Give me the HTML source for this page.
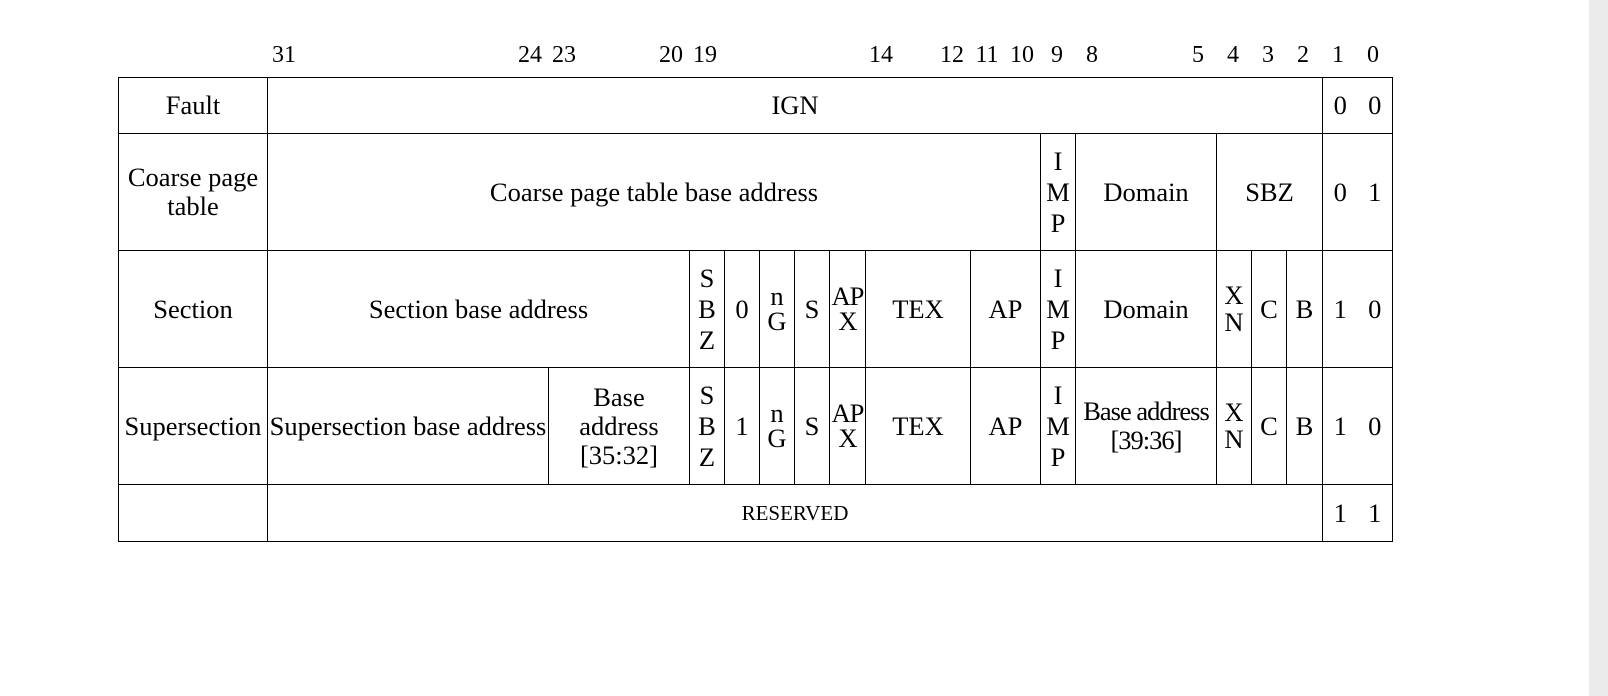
<!DOCTYPE html>
<html><head><meta charset="utf-8"><style>
html,body{margin:0;padding:0;background:#fff;}
body{width:1608px;height:696px;position:relative;overflow:hidden;font-family:"Liberation Serif","Times New Roman",serif;font-size:26.5px;color:#000;}
.c{position:absolute;box-sizing:border-box;border:1.3px solid #000;display:flex;align-items:center;justify-content:center;text-align:center;line-height:29px;white-space:nowrap;}
.v{line-height:31px;}
.h{position:absolute;top:42px;font-size:24px;transform:translateX(-50%);}
.d{display:inline-block;width:35px;text-align:center;}
#sb{position:absolute;left:1589px;top:0;width:19px;height:696px;background:#ebebeb;}
</style></head><body>
<div id="sb"></div>
<div class="h" style="left:284px">31</div>
<div class="h" style="left:530px">24</div>
<div class="h" style="left:564px">23</div>
<div class="h" style="left:671px">20</div>
<div class="h" style="left:705px">19</div>
<div class="h" style="left:881px">14</div>
<div class="h" style="left:952px">12</div>
<div class="h" style="left:987px">11</div>
<div class="h" style="left:1022px">10</div>
<div class="h" style="left:1057px">9</div>
<div class="h" style="left:1092px">8</div>
<div class="h" style="left:1198px">5</div>
<div class="h" style="left:1233px">4</div>
<div class="h" style="left:1268px">3</div>
<div class="h" style="left:1303px">2</div>
<div class="h" style="left:1338px">1</div>
<div class="h" style="left:1373px">0</div>
<div id="t"></div>
<script>
const Y=[77,133,250,367,484,541];
const P=(a,b)=>`<span class="d">${a}</span><span class="d">${b}</span>`;
const rows=[
 [[118,267,'Fault'],[267,1322,'IGN'],[1322,1392,P(0,0)]],
 [[118,267,'Coarse page<br>table'],[267,1040,'Coarse page table base address'],[1040,1075,'I<br>M<br>P','v'],[1075,1216,'Domain'],[1216,1322,'SBZ'],[1322,1392,P(0,1)]],
 [[118,267,'Section'],[267,689,'Section base address'],[689,724,'S<br>B<br>Z','v'],[724,759,'0'],[759,794,'n<br>G'],[794,829,'S'],[829,865,'AP<br>X','a'],[865,970,'TEX'],[970,1040,'AP'],[1040,1075,'I<br>M<br>P','v'],[1075,1216,'Domain'],[1216,1251,'X<br>N'],[1251,1286,'C'],[1286,1322,'B'],[1322,1392,P(1,0)]],
 [[118,267,'Supersection'],[267,548,'Supersection base address'],[548,689,'Base<br>address<br>[35:32]'],[689,724,'S<br>B<br>Z','v'],[724,759,'1'],[759,794,'n<br>G'],[794,829,'S'],[829,865,'AP<br>X','a'],[865,970,'TEX'],[970,1040,'AP'],[1040,1075,'I<br>M<br>P','v'],[1075,1216,'Base address<br>[39:36]','b'],[1216,1251,'X<br>N'],[1251,1286,'C'],[1286,1322,'B'],[1322,1392,P(1,0)]],
 [[118,267,''],[267,1322,'RESERVED','r'],[1322,1392,P(1,1)]]
];
let h='';
rows.forEach((r,i)=>{r.forEach(c=>{
 let st=`left:${c[0]}px;top:${Y[i]}px;width:${c[1]-c[0]+1}px;height:${Y[i+1]-Y[i]+1}px;`;
 let cls='c';
 if(c[3]=='v')cls+=' v';
 if(c[3]=='a')st+='letter-spacing:-1px;line-height:25px;';
 if(c[3]=='b')st+='letter-spacing:-1px;line-height:29px;';
 if(c[3]=='r')st+='font-size:21px;';
 if(c[2].includes('n<br>G'))st+='line-height:25px;';
 if(c[2].includes('X<br>N'))st+='line-height:27px;';
 h+=`<div class="${cls}" style="${st}">${c[2]}</div>`;
});});
document.getElementById('t').innerHTML=h;
</script>
</body></html>
